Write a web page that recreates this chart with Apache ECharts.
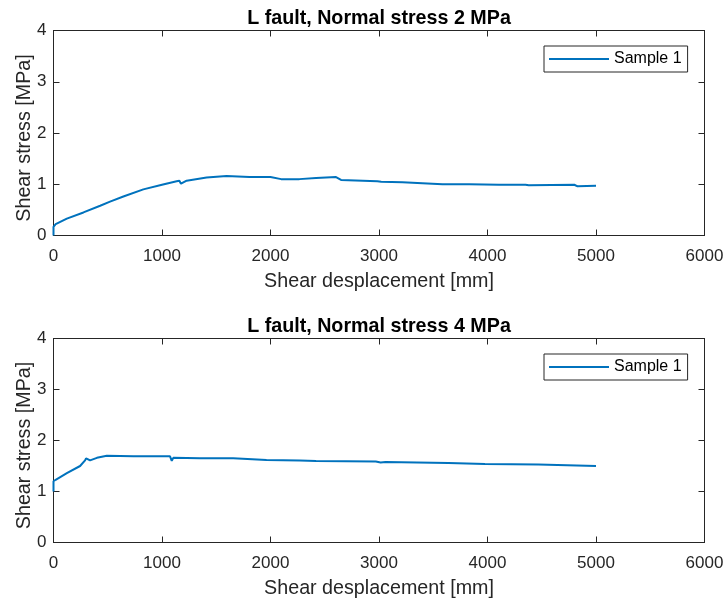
<!DOCTYPE html>
<html>
<head>
<meta charset="utf-8">
<script src="https://cdn.jsdelivr.net/npm/echarts@6/dist/echarts.min.js"></script>
<style>html,body{margin:0;padding:0;background:#fff;}#c{width:728px;height:605px;}</style>
</head>
<body>
<div id="c"></div>
<script>
// Titles & labels
const titles = ['L fault, Normal stress 2 MPa', 'L fault, Normal stress 4 MPa'];
const xLabel = 'Shear desplacement [mm]';
const yLabel = 'Shear stress [MPa]';
const seriesName = 'Sample 1';

// Top panel (Normal stress 2 MPa)
const x2 = [0, 0, 20, 123, 276, 430, 521, 644, 828, 1000, 1135, 1160, 1175, 1227, 1411, 1595, 1806, 2000, 2098, 2266, 2420, 2604, 2650, 2985, 3000, 3020, 3216, 3400, 3585, 3830, 4106, 4350, 4380, 4800, 4830, 5000];
const y2 = [0.0, 0.17, 0.22, 0.33, 0.45, 0.58, 0.66, 0.76, 0.90, 0.99, 1.06, 1.07, 1.01, 1.07, 1.13, 1.16, 1.14, 1.14, 1.10, 1.10, 1.12, 1.14, 1.085, 1.06, 1.03, 1.05, 1.04, 1.02, 1.00, 1.00, 0.99, 0.99, 0.98, 0.99, 0.96, 0.97];

// Bottom panel (Normal stress 4 MPa)
const x4 = [0, 0, 20, 123, 245, 291, 300, 337, 400, 491, 736, 1043, 1074, 1090, 1104, 1350, 1656, 1963, 2270, 2420, 2970, 3015, 3060, 3640, 3976, 4468, 5000];
const y4 = [1.0, 1.2, 1.23, 1.36, 1.50, 1.61, 1.65, 1.61, 1.66, 1.70, 1.69, 1.69, 1.69, 1.60, 1.66, 1.65, 1.65, 1.62, 1.61, 1.60, 1.59, 1.57, 1.58, 1.56, 1.54, 1.53, 1.50];

// Axis ticks
const xMin = 0, xMax = 6000, xStep = 1000;
const yMin = 0, yMax = 4, yStep = 1;

const axisColor = '#262626';
const lineColor = '#0072BD';
const font = "'Liberation Sans', Arial, sans-serif";

const grids = [
  {left: 53.5, top: 30.5, width: 651, height: 205, outerBoundsMode: 'none', containLabel: false},
  {left: 53.5, top: 338.5, width: 651, height: 204, outerBoundsMode: 'none', containLabel: false}
];

const xAxes = [], yAxes = [], series = [], titleArr = [], legends = [];
grids.forEach((g, i) => {
  xAxes.push({
    gridIndex: i, type: 'value', min: xMin, max: xMax, interval: xStep, position: 'bottom',
    name: xLabel, nameLocation: 'middle', nameGap: 36, nameMoveOverlap: false,
    nameTextStyle: {color: axisColor, fontSize: 19.7, fontFamily: font},
    axisLine: {show: true, onZero: false, lineStyle: {color: axisColor, width: 1}},
    axisTick: {show: true, inside: true, length: 6, lineStyle: {color: axisColor}},
    axisLabel: {color: axisColor, fontSize: 17, fontFamily: font, margin: 12, formatter: v => String(v)},
    splitLine: {show: false}
  });
  xAxes.push({
    gridIndex: i, type: 'value', min: xMin, max: xMax, interval: xStep, position: 'top',
    axisLine: {show: true, onZero: false, lineStyle: {color: axisColor, width: 1}},
    axisTick: {show: true, inside: true, length: 6, lineStyle: {color: axisColor}},
    axisLabel: {show: false}, splitLine: {show: false}
  });
  yAxes.push({
    gridIndex: i, type: 'value', min: yMin, max: yMax, interval: yStep, position: 'left',
    name: yLabel, nameLocation: 'middle', nameGap: 19, nameMoveOverlap: false,
    nameTextStyle: {color: axisColor, fontSize: 19.7, fontFamily: font, padding: [0, 10, 0, 0]},
    axisLine: {show: true, onZero: false, lineStyle: {color: axisColor, width: 1}},
    axisTick: {show: true, inside: true, length: 6, lineStyle: {color: axisColor}},
    axisLabel: {color: axisColor, fontSize: 17, fontFamily: font, margin: 7, formatter: v => String(v)},
    splitLine: {show: false}
  });
  yAxes.push({
    gridIndex: i, type: 'value', min: yMin, max: yMax, interval: yStep, position: 'right',
    axisLine: {show: true, onZero: false, lineStyle: {color: axisColor, width: 1}},
    axisTick: {show: true, inside: true, length: 6, lineStyle: {color: axisColor}},
    axisLabel: {show: false}, splitLine: {show: false}
  });
  titleArr.push({
    text: titles[i], left: g.left + g.width / 2, textAlign: 'center', top: g.top - 22,
    padding: 0,
    textStyle: {color: '#000', fontSize: 19.7, fontWeight: 'bold', fontFamily: font}
  });
  legends.push({
    data: [{name: seriesName, icon: 'rect'}], left: 544, top: g.top + 15.5, orient: 'vertical',
    itemWidth: 60, itemHeight: 2, itemGap: 0,
    padding: [5, 6, 5, 5], borderColor: axisColor, borderWidth: 1, borderRadius: 0,
    backgroundColor: '#fff',
    textStyle: {color: '#000', fontSize: 16, fontFamily: font, lineHeight: 16},
    selectedMode: false
  });
});

const datasets = [[x2, y2], [x4, y4]];
datasets.forEach((d, i) => {
  series.push({
    name: seriesName, type: 'line', xAxisIndex: i * 2, yAxisIndex: i * 2,
    data: d[0].map((x, k) => [x, d[1][k]]),
    showSymbol: false, symbol: 'none',
    lineStyle: {color: lineColor, width: 2}, itemStyle: {color: lineColor},
    animation: false
  });
});

const chart = echarts.init(document.getElementById('c'), null, {renderer: 'canvas'});
chart.setOption({
  animation: false,
  backgroundColor: '#fff',
  title: titleArr,
  legend: legends,
  grid: grids,
  xAxis: xAxes,
  yAxis: yAxes,
  series: series
});
</script>
</body>
</html>
